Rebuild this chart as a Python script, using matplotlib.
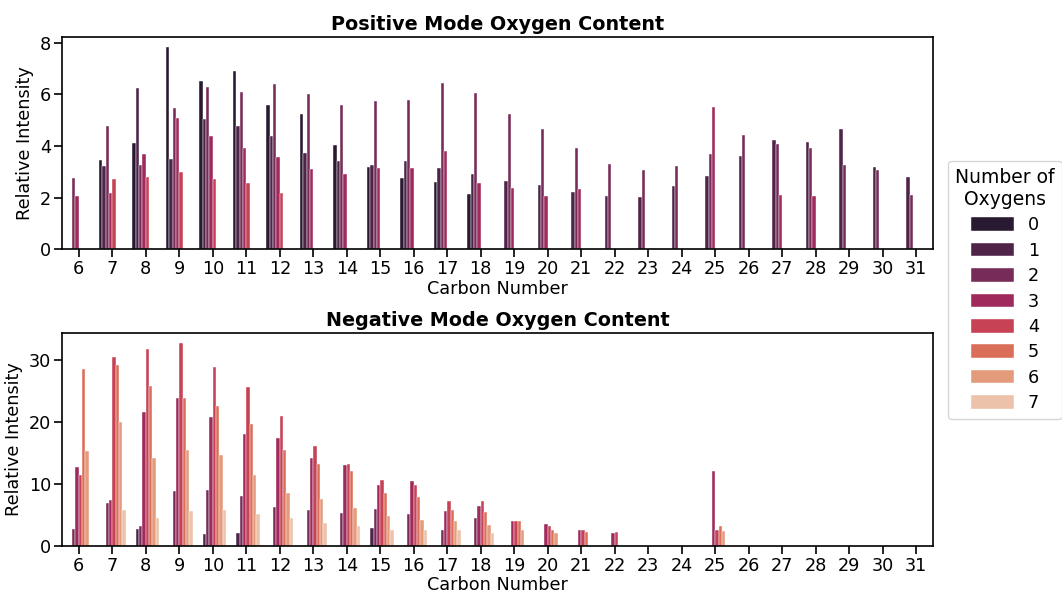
import numpy as np
import matplotlib
matplotlib.use("Agg")
import matplotlib.pyplot as plt
import seaborn as sns
from matplotlib.patches import Patch

nan = np.nan

# Carbon numbers on the x axis
carbone = list(range(6, 32))
oxygenes = [0, 1, 2, 3, 4, 5, 6, 7]

# Positive mode, one list per number of oxygens (nan = no bar)
pos_O0 = [nan, 3.46, 4.11, 7.84, 6.51, 6.91, 5.61, 5.25, 4.04, 3.18, 2.76, 2.60, 2.14,
          nan, nan, nan, nan, nan, nan, nan, nan, nan, nan, nan, nan, nan]
pos_O1 = [nan, 3.23, 6.25, 3.50, 5.06, 4.78, 4.37, 3.71, 3.42, 3.28, 3.40, 3.15, 2.93,
          2.64, 2.48, 2.22, 2.07, 2.03, 2.44, 2.83, 3.63, 4.25, 4.15, 4.65, 3.20, 2.79]
pos_O2 = [2.74, 4.79, 3.28, 5.48, 6.30, 6.09, 6.42, 6.02, 5.59, 5.74, 5.78, 6.46, 6.07,
          5.23, 4.65, 3.94, 3.29, 3.05, 3.23, 3.68, 4.42, 4.07, 3.94, 3.27, 3.07, 2.11]
pos_O3 = [2.04, 2.16, 3.68, 5.08, 4.39, 3.93, 3.59, 3.11, 2.93, 3.15, 3.13, 3.82, 2.56,
          2.36, 2.07, 2.34, nan, nan, nan, 5.53, nan, 2.08, 2.07, nan, nan, nan]
pos_O4 = [nan, 2.71, 2.80, 2.98, 2.73, 2.57, 2.16, nan, nan, nan, nan, nan, nan,
          nan, nan, nan, nan, nan, nan, nan, nan, nan, nan, nan, nan, nan]
pos_O5 = [nan] * 26
pos_O6 = [nan] * 26
pos_O7 = [nan] * 26

# Negative mode
neg_O0 = [nan] * 26
neg_O1 = [nan, nan, 2.82, nan, 1.95, 2.11, nan, nan, nan, 2.87, nan, nan, nan,
          nan, nan, nan, nan, nan, nan, nan, nan, nan, nan, nan, nan, nan]
neg_O2 = [2.82, 6.98, 3.25, 8.83, 9.04, 8.12, 6.23, 5.74, 5.36, 5.90, 5.20, 2.60, 4.60,
          nan, nan, nan, nan, nan, nan, nan, nan, nan, nan, nan, nan, nan]
neg_O3 = [12.7, 7.47, 21.7, 24.0, 20.9, 18.1, 17.5, 14.3, 13.05, 9.9, 10.56, 5.58, 6.44,
          4.0, 3.52, 2.6, 2.06, nan, nan, 12.07, nan, nan, nan, nan, nan, nan]
neg_O4 = [11.4, 30.5, 31.8, 32.8, 29.0, 25.7, 21.1, 16.1, 13.2, 10.7, 9.8, 7.25, 7.2,
          4.06, 3.25, 2.54, 2.33, nan, nan, 2.6, nan, nan, nan, nan, nan, nan]
neg_O5 = [28.6, 29.3, 25.8, 23.9, 22.7, 19.65, 15.6, 13.3, 12.1, 8.6, 7.96, 5.85, 5.52,
          4.0, 2.6, 2.22, nan, nan, nan, 3.3, nan, nan, nan, nan, nan, nan]
neg_O6 = [15.4, 20.1, 14.3, 15.6, 14.7, 11.4, 8.6, 7.58, 6.17, 4.87, 4.22, 4.06, 3.41,
          2.6, 2.06, nan, nan, nan, nan, 2.38, nan, nan, nan, nan, nan, nan]
neg_O7 = [nan, 5.85, 4.6, 5.63, 5.74, 5.2, 4.5, 3.68, 3.25, 2.65, 2.65, 2.6, 2.17,
          nan, nan, nan, nan, nan, nan, nan, nan, nan, nan, nan, nan, nan]

positif = [pos_O0, pos_O1, pos_O2, pos_O3, pos_O4, pos_O5, pos_O6, pos_O7]
negatif = [neg_O0, neg_O1, neg_O2, neg_O3, neg_O4, neg_O5, neg_O6, neg_O7]

sns.set_style("ticks")
plt.rcParams['font.family'] = ['DejaVu Sans']
plt.rcParams['text.color'] = 'black'
plt.rcParams['axes.labelcolor'] = 'black'
plt.rcParams['xtick.color'] = 'black'
plt.rcParams['ytick.color'] = 'black'
# comme barplot de seaborn : saturation 0.75
couleurs = [sns.desaturate(c, 0.75) for c in sns.color_palette("rocket", 8)]

fig = plt.figure(figsize=(10.62, 5.95), dpi=100)
ax1 = fig.add_axes([0.0584, 0.5815, 0.8201, 0.3563])
ax2 = fig.add_axes([0.0584, 0.0824, 0.8201, 0.3579])

largeur = 0.1
x = np.arange(len(carbone))

def tracer(ax, series, titre):
    for k, valeurs in enumerate(series):
        v = np.array(valeurs, dtype=float)
        ok = ~np.isnan(v)
        ax.bar(x[ok] - 0.35 + k * largeur, v[ok], width=largeur, color=couleurs[k],
               edgecolor='white', linewidth=0.3)
    ax.set_xlim(-0.5, len(carbone) - 0.5)
    ax.set_xticks(x)
    ax.set_xticklabels([str(c) for c in carbone])
    ax.set_title(titre, fontsize=13.8, fontweight='bold', pad=5)
    ax.set_xlabel('Carbon Number', fontsize=12.7, labelpad=1)
    ax.set_ylabel('Relative Intensity', fontsize=12.7)
    ax.tick_params(labelsize=12.7, length=6, width=1.2, pad=2)
    for s in ax.spines.values():
        s.set_linewidth(1.2)
        s.set_color('black')

tracer(ax1, positif, 'Positive Mode Oxygen Content')
tracer(ax2, negatif, 'Negative Mode Oxygen Content')
ax1.set_yticks([0, 2, 4, 6, 8])
ax2.set_yticks([0, 10, 20, 30])

poignees = [Patch(facecolor=couleurs[k], edgecolor='white', linewidth=0.3) for k in range(8)]
leg = fig.legend(poignees, [str(o) for o in oxygenes], title='Number of\nOxygens',
                 loc='center left', bbox_to_anchor=(0.893, 0.5126), borderaxespad=0,
                 fontsize=12.7, title_fontsize=13.5, frameon=True, handlelength=2.4,
                 handleheight=0.8, labelspacing=0.42, borderpad=0.4)
leg.get_title().set_multialignment('center')

fig.savefig('out.png', dpi=100)
